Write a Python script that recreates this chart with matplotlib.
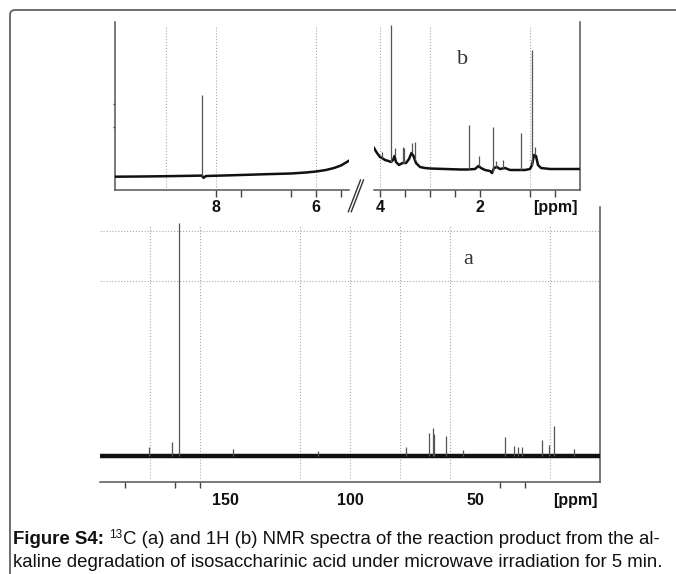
import numpy as np
import matplotlib
matplotlib.use("Agg")
import matplotlib.pyplot as plt
from matplotlib.path import Path
from matplotlib.patches import PathPatch
from matplotlib.lines import Line2D

plt.rcParams["font.family"] = ["Liberation Sans", "DejaVu Sans"]

# ---------------- 1H spectrum (b), low-field segment ----------------
h_left_base_ppm = [10.02, 9.5, 9.0, 8.5, 8.28, 8.25, 8.2, 7.5, 7.0, 6.5, 6.2, 6.0, 5.8, 5.64, 5.5, 5.35]
h_left_base_int = [0.3, 0.5, 0.8, 1.2, 1.4, -0.8, 1.0, 2.0, 2.8, 3.5, 4.5, 5.5, 7.0, 9.0, 11.5, 16.0]
h_left_peak_ppm = [8.27]
h_left_peak_int = [82]

# ---------------- 1H spectrum (b), high-field segment ----------------
h_right_base_ppm = [4.12, 4.06, 4.0, 3.96, 3.9, 3.83, 3.78, 3.74, 3.71, 3.68, 3.62, 3.55, 3.48,
                    3.42, 3.37, 3.33, 3.28, 3.2, 3.1, 3.0, 2.7, 2.4, 2.25, 2.1, 2.03, 1.98,
                    1.9, 1.8, 1.76, 1.72, 1.66, 1.6, 1.5, 1.4, 1.25, 1.1, 1.0, 0.96, 0.92,
                    0.88, 0.84, 0.78, 0.6, 0.3, 0.0]
h_right_base_int = [29, 24, 20, 19, 17, 16, 15, 17, 21, 15, 12, 14, 14,
                    18, 24, 21, 14, 10, 9, 8.5, 8, 7.5, 7.5, 8, 11, 9,
                    7, 6, 4, 9, 10, 8, 9, 7, 7, 7, 8, 12, 22,
                    21, 12, 9, 8, 8, 8]
h_right_peak_ppm = [3.96, 3.78, 3.71, 3.55, 3.52, 3.37, 3.30, 2.23, 2.03, 1.75, 1.69, 1.54, 1.18, 0.97, 0.90]
h_right_peak_int = [25, 152, 29, 30, 29, 34, 35, 52, 21, 50, 16, 17, 44, 127, 30]

# ---------------- 13C spectrum (a) ----------------
c_base_ppm = [200.0, 0.0]
c_base_int = [0.0, 0.0]
c_peak_ppm = [180.3, 171.3, 168.4, 146.8, 112.8, 77.6, 68.5, 66.9, 66.3, 61.6, 54.8,
              38.0, 34.4, 32.9, 31.3, 23.3, 20.4, 18.3, 10.3]
c_peak_int = [9, 14, 233, 7, 5, 9, 23, 28, 22, 20, 6, 19, 10, 9, 9, 16, 11, 30, 7]

W, H = 676, 574
fig = plt.figure(figsize=(W / 100, H / 100), dpi=100)
fig.patch.set_facecolor("white")


def px_axes(x0, y0, x1, y1):
    return fig.add_axes([x0 / W, 1 - y1 / H, (x1 - x0) / W, (y1 - y0) / H])


SPINE = "#555555"
GRID = "#aaaaaa"
TICKFONT = dict(fontsize=11.5, fontweight="bold", color="#111111")


def style_axes(ax, show):
    for side in ("left", "right", "top", "bottom"):
        ax.spines[side].set_visible(side in show)
        ax.spines[side].set_color(SPINE)
        ax.spines[side].set_linewidth(1.1)
    ax.set_facecolor("none")


def draw_spectrum(ax, bppm, bint, pppm, pint, lw_base):
    ax.plot(bppm, bint, color="#111111", lw=lw_base, solid_joinstyle="round", zorder=3)
    order = np.argsort(bppm)
    base_at = np.interp(pppm, np.asarray(bppm)[order], np.asarray(bint)[order])
    ax.vlines(pppm, base_at, pint, color="#555555", lw=0.9, zorder=4)


# ---- top left panel ----
axL = px_axes(115, 22, 349, 190)
style_axes(axL, ("left", "bottom"))
axL.set_xlim(10.02, 5.34)
axL.set_ylim(-13, 155)
for g in (9, 8, 6):
    axL.axvline(g, ymin=0.02, ymax=0.98, color=GRID, ls=":", lw=0.8, zorder=1)
draw_spectrum(axL, h_left_base_ppm, h_left_base_int, h_left_peak_ppm, h_left_peak_int, 1.8)
axL.set_xticks([8, 7.5, 6.5, 6, 5.5])
axL.set_xticklabels(["8", "", "", "6", ""], **TICKFONT)
axL.set_yticks([50, 73])
axL.set_yticklabels([])
axL.tick_params(axis="x", direction="out", length=5, width=1.0, color="#444444", pad=2)
axL.tick_params(axis="y", direction="out", length=1.5, width=1.0, color="#444444")

# ---- top right panel ----
axR = px_axes(374, 22, 580, 190)
style_axes(axR, ("right", "bottom"))
axR.set_xlim(4.12, 0.0)
axR.set_ylim(-13, 155)
for g in (4, 3, 1):
    axR.axvline(g, ymin=0.02, ymax=0.98, color=GRID, ls=":", lw=0.8, zorder=1)
draw_spectrum(axR, h_right_base_ppm, h_right_base_int, h_right_peak_ppm, h_right_peak_int, 1.8)
axR.set_xticks([4, 3.5, 3, 2.5, 2, 1, 0.5])
axR.set_xticklabels(["4", "", "", "", "2", "", "[ppm]"], **TICKFONT)
axR.set_yticks([])
axR.tick_params(axis="x", direction="out", length=5, width=1.0, color="#444444", pad=2)
axR.text(2.35, 118, "b", family="Liberation Serif", fontsize=16, color="#333333",
         ha="center", va="center")

# ---- bottom panel ----
axC = px_axes(100, 207, 600, 482)
style_axes(axC, ("right", "bottom"))
axC.set_xlim(200, 0)
axC.set_ylim(-26, 249)
for g in (180, 160, 120, 100, 80, 60, 20):
    axC.axvline(g, ymin=0.015, ymax=0.935, color=GRID, ls=":", lw=0.8, zorder=1)
for g in (225, 175):
    axC.axhline(g, color=GRID, ls=":", lw=0.8, zorder=1)
draw_spectrum(axC, c_base_ppm, c_base_int, c_peak_ppm, c_peak_int, 3.2)
axC.set_xticks([150, 100, 50, 10])
axC.set_xticklabels(["150", "100", "50", "[ppm]"], **TICKFONT)
axC.set_xticks([190, 170, 160, 40, 30, 10], minor=True)
axC.set_yticks([])
axC.tick_params(axis="x", which="major", length=0, pad=8)
axC.tick_params(axis="x", which="minor", direction="out", length=4.5, width=1.0, color="#444444")
axC.text(52.8, 197, "a", family="Liberation Serif", fontsize=16, color="#333333",
         ha="center", va="center")

# ---- axis break marks between the two 1H segments ----
for dx in (0.0, 3.0):
    fig.add_artist(Line2D([(348.3 + dx) / W, (360.5 + dx) / W],
                          [1 - 211.7 / H, 1 - 180 / H],
                          transform=fig.transFigure, color="#333333", lw=1.0))

# ---- frame with rounded top-left corner ----
r = 5
verts = [(10 / W, -0.02), (10 / W, 1 - (10 + r) / H),
         (10 / W, 1 - 10 / H), ((10 + r) / W, 1 - 10 / H),
         (1.02, 1 - 10 / H)]
codes = [Path.MOVETO, Path.LINETO, Path.CURVE3, Path.CURVE3, Path.LINETO]
fig.add_artist(PathPatch(Path(verts, codes), transform=fig.transFigure,
                         fill=False, edgecolor="#555555", lw=1.2))

# ---- caption, built from pieces so the label, superscript and body line up ----
renderer = fig.canvas.get_renderer()
CAP = 13.4
cap_color = "#111111"
x0 = 13
base1 = 544
base2 = 567

t_label = fig.text(x0 / W, 1 - base1 / H, "Figure S4:", fontsize=CAP, fontweight="bold",
                   color=cap_color, ha="left", va="baseline")
x_after = t_label.get_window_extent(renderer).x1 + 5
t_sup = fig.text(x_after / W, 1 - (base1 - 6) / H, "13", fontsize=8.5, color=cap_color,
                 ha="left", va="baseline")
x_after = t_sup.get_window_extent(renderer).x1 + 0.5
fig.text(x_after / W, 1 - base1 / H,
         "C (a) and 1H (b) NMR spectra of the reaction product from the al-",
         fontsize=CAP, color=cap_color, ha="left", va="baseline")
fig.text(x0 / W, 1 - base2 / H,
         "kaline degradation of isosaccharinic acid under microwave irradiation for 5 min.",
         fontsize=CAP, color=cap_color, ha="left", va="baseline")

fig.savefig("out.png", dpi=100)
